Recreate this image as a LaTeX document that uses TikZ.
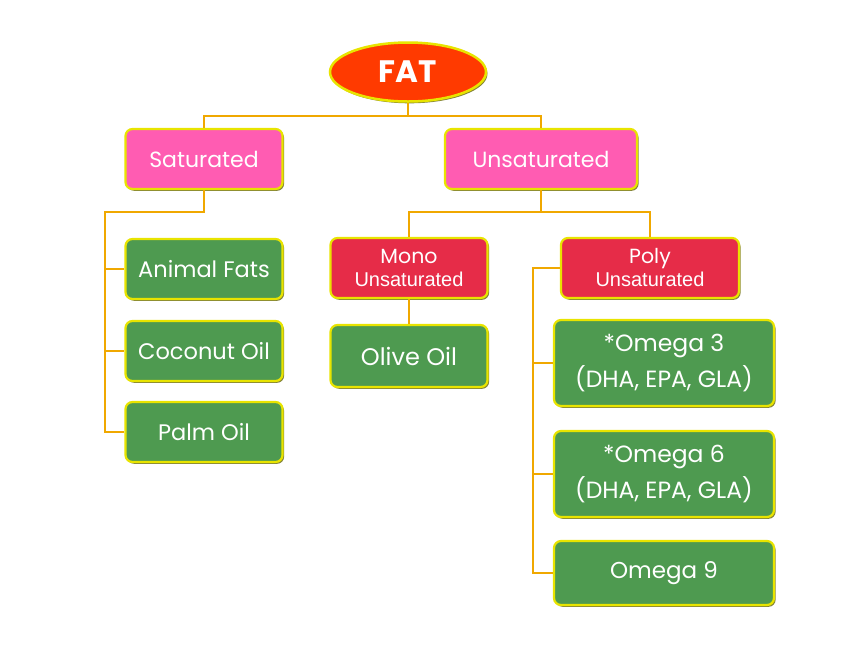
\documentclass[tikz,border=0pt]{standalone}
\usepackage{fontspec}
\setmainfont{Poppins}
\newfontfamily\arialf{Liberation Sans}
\usetikzlibrary{shapes.geometric,shadows}
\definecolor{fatfill}{RGB}{255,58,0}
\definecolor{pinkfill}{RGB}{255,92,178}
\definecolor{redfill}{RGB}{230,44,72}
\definecolor{greenfill}{RGB}{78,154,80}
\definecolor{bordercol}{RGB}{232,228,0}
\definecolor{shadowcol}{RGB}{110,110,20}
\definecolor{linecol}{RGB}{240,168,0}
\tikzset{
  box/.style={draw=bordercol, line width=2.2pt, rounded corners=7pt, text=white, align=center, inner sep=0pt,
    drop shadow={shadow xshift=1.6pt, shadow yshift=-1.8pt, fill=shadowcol, opacity=0.85}},
  pinkbox/.style={box, fill=pinkfill, minimum width=157pt, minimum height=60pt, font=\fontsize{22}{24}\selectfont},
  redbox/.style={box, fill=redfill, minimum height=60pt, font=\fontsize{20.5}{23}\selectfont},
  greenbox/.style={box, fill=greenfill, minimum height=60pt, font=\fontsize{22.5}{34}\selectfont},
  conn/.style={draw=linecol, line width=1.3pt},
}
\newcommand{\unsatline}{{\arialf\fontsize{20}{23}\selectfont Unsaturated}}
\begin{document}
\begin{tikzpicture}[x=1pt,y=-1pt]
\useasboundingbox (0,0) rectangle (865,649);
% nodes
\node[ellipse, fill=fatfill, draw=bordercol, line width=2.5pt, minimum width=156pt, minimum height=59pt, inner sep=0pt,
  text=white, font=\fontsize{31}{32}\selectfont\bfseries,
  drop shadow={shadow xshift=1.5pt, shadow yshift=-1.8pt, fill=shadowcol, opacity=0.85}] (fat) at (408,72) {FAT};
\node[pinkbox] (sat) at (204,159) {Saturated};
\node[pinkbox, minimum width=192pt] (unsat) at (541,159) {Unsaturated};
\node[greenbox, minimum width=157pt] (animal) at (204,269) {Animal Fats};
\node[greenbox, minimum width=157pt] (coconut) at (204,351) {Coconut Oil};
\node[greenbox, minimum width=157pt] (palm) at (204,432) {Palm Oil};
\node[redbox, minimum width=157pt] (mono) at (409,268) {Mono\\\unsatline};
\node[redbox, minimum width=178pt] (poly) at (650,268) {Poly\\\unsatline};
\node[greenbox, minimum width=157pt, minimum height=62pt, font=\fontsize{24}{30}\selectfont] (olive) at (409,356) {Olive Oil};
\node[greenbox, minimum width=220pt, minimum height=86pt, font=\fontsize{23.5}{36}\selectfont] (o3) at (664,363) {*Omega 3\\(DHA, EPA, GLA)};
\node[greenbox, minimum width=220pt, minimum height=86pt, font=\fontsize{23.5}{36}\selectfont] (o6) at (664,474) {*Omega 6\\(DHA, EPA, GLA)};
\node[greenbox, minimum width=220pt, minimum height=64pt, font=\fontsize{23}{30}\selectfont] (o9) at (664,573) {Omega 9};
% junctions
\coordinate (j1) at (408,116);
\coordinate (sbus) at (105,212);
\coordinate (ubus) at (541,212);
\coordinate (pbus) at (533,268);
% connectors
\draw[conn] (fat.south) -- (j1) -| (sat.north);
\draw[conn] (j1) -| (unsat.north);
\draw[conn] (sat.south) |- (sbus) |- (palm.west);
\draw[conn] (sbus) |- (animal.west);
\draw[conn] (sbus) |- (coconut.west);
\draw[conn] (unsat.south) -- (ubus) -| (mono.north);
\draw[conn] (ubus) -| (poly.north);
\draw[conn] (mono.south) -- (olive.north);
\draw[conn] (poly.west) -- (pbus) |- (o9.west);
\draw[conn] (pbus) |- (o3.west);
\draw[conn] (pbus) |- (o6.west);
\end{tikzpicture}
\end{document}
